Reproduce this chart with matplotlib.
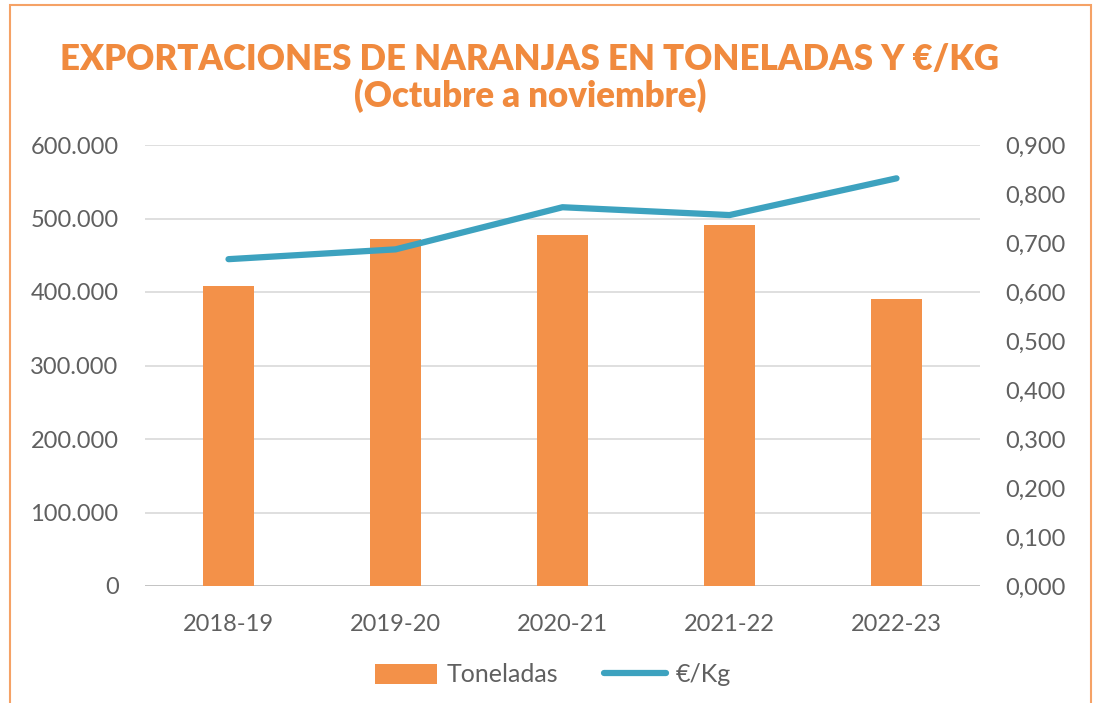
import matplotlib
matplotlib.use('Agg')
import matplotlib.pyplot as plt
from matplotlib.patches import Rectangle
from matplotlib.ticker import FuncFormatter

# ── Data ──────────────────────────────────────────────────────────────
campanas  = ['2018-19', '2019-20', '2020-21', '2021-22', '2022-23']
toneladas = [408000, 472000, 477000, 491000, 390000]
euro_kg   = [0.667, 0.687, 0.773, 0.757, 0.832]

bar_color  = '#F39149'
line_color = '#3DA2BF'
title_col  = '#F08A3E'
text_col   = '#606060'
grid_col   = '#D9D9D9'

plt.rcParams['font.family'] = ['Lato', 'DejaVu Sans']

fig = plt.figure(figsize=(10.99, 7.03), dpi=100)
ax  = fig.add_axes([145/1099, 1 - 586/703, 835/1099, 441/703])
ax2 = ax.twinx()

x = range(len(campanas))
bars = ax.bar(x, toneladas, width=0.31, color=bar_color, label='Toneladas', zorder=2)
line, = ax2.plot(x, euro_kg, color=line_color, lw=4.5, solid_capstyle='round', label='€/Kg', zorder=3)

ax.set_xlim(-0.5, 4.5)
ax.set_ylim(0, 600000)
ax2.set_ylim(0, 0.9)
ax.set_yticks(range(0, 600001, 100000))
ax2.set_yticks([i / 10 for i in range(10)])

ax.yaxis.set_major_formatter(FuncFormatter(lambda v, p: f'{int(v):,}'.replace(',', '.')))
ax2.yaxis.set_major_formatter(FuncFormatter(lambda v, p: f'{v:.3f}'.replace('.', ',')))

ax.set_xticks(list(x))
ax.set_xticklabels(campanas)

ax.grid(axis='y', color=grid_col, lw=1.2, zorder=0)
ax.set_axisbelow(True)
for a in (ax, ax2):
    for s in ['top', 'left', 'right', 'bottom']:
        a.spines[s].set_visible(False)
    a.tick_params(length=0, labelsize=17, colors=text_col)
ax.axhline(0, color='#BFBFBF', lw=1.2, zorder=1)
ax.tick_params(axis='y', pad=19)
ax.tick_params(axis='x', pad=20)
ax2.tick_params(axis='y', pad=18)

# title
fig.text(0.482, 1 - 60/703, 'EXPORTACIONES DE NARANJAS EN TONELADAS Y €/KG',
         ha='center', va='center', fontsize=25, fontweight='heavy', color=title_col)
fig.text(0.482, 1 - 96/703, '(Octubre a noviembre)',
         ha='center', va='center', fontsize=25, fontweight='heavy', color=title_col)

# legend
fig.legend(handles=[bars, line], loc='center', bbox_to_anchor=(553/1099, 1 - 675/703),
           ncol=2, frameon=False, fontsize=18, labelcolor=text_col,
           handlelength=2.5, handleheight=0.9, handletextpad=0.4, columnspacing=1.8)

# orange frame
fig.add_artist(Rectangle((10/1099, -0.02), 1081/1099, 1.0 - 5/703 + 0.02,
                         transform=fig.transFigure, fill=False,
                         edgecolor='#F5A266', lw=1.5))

fig.savefig('out.png', dpi=100, facecolor='white')
